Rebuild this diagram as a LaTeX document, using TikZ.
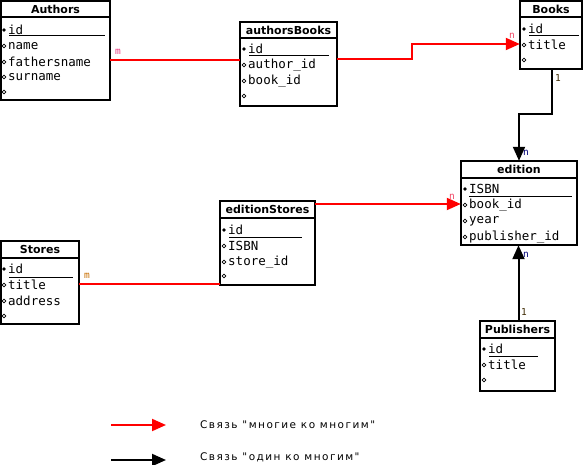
\documentclass[tikz,border=0pt]{standalone}
\usepackage{fontspec}
\setmainfont{DejaVu Sans}
\newfontfamily\fieldfont{DejaVu Sans Mono}
\newfontfamily\legfont[LetterSpace=14]{DejaVu Sans}
\usetikzlibrary{arrows.meta}
\definecolor{relred}{RGB}{255,0,0}
\definecolor{lblpink}{RGB}{235,60,130}
\definecolor{lblred}{RGB}{240,70,100}
\definecolor{lblorange}{RGB}{200,110,0}
\definecolor{lbldark}{RGB}{60,40,0}
\definecolor{lblblue}{RGB}{0,0,120}
\begin{document}
\begin{tikzpicture}[x=1pt,y=-1pt,
  tbl/.style={draw,line width=2pt},
  hdr/.style={line width=1.6pt},
  ttl/.style={inner sep=0pt,font=\fontsize{11}{11}\selectfont\bfseries},
  fld/.style={anchor=west,inner sep=0pt,font=\fieldfont\fontsize{12.5}{12}\selectfont},
  uline/.style={line width=1pt},
  keymk/.style={fill=black},
  mk/.style={draw=black,line width=0.8pt},
  many/.style={draw=relred,line width=2pt,-{Triangle[length=14pt,width=12pt]}},
  manyline/.style={draw=relred,line width=2pt},
  one/.style={draw=black,line width=2pt,-{Triangle[length=14pt,width=12pt]}},
  lbl/.style={inner sep=0pt,font=\fieldfont\fontsize{9.5}{9}\selectfont},
  leg/.style={anchor=west,inner sep=0pt,font=\legfont\fontsize{10.5}{10}\selectfont}]
\useasboundingbox (0,0) rectangle (586,465);

% ---------- Authors ----------
\draw[tbl] (1,1) rectangle (110,100);
\node[minimum width=109pt,minimum height=99pt,inner sep=0pt] (authors) at (55.5,50.5) {};
\node[ttl] (authors-t) at (55.5,9) {Authors};
\draw[hdr] (1,17) -- (110,17);
\foreach \y/\t [count=\i] in {30/id,46/name,62/fathersname,77/surname,92/{}}
  \node[fld] (authors-\i) at (8,\y) {\t};
\draw[uline] (9,36) -- (105,36);
\fill[keymk] (4,30) circle (1.8);
\foreach \y in {46,62,77,92} \draw[mk] (4,\y) circle (1.9);

% ---------- authorsBooks ----------
\draw[tbl] (240,22) rectangle (337,106);
\node[minimum width=97pt,minimum height=84pt,inner sep=0pt] (ab) at (288.5,64) {};
\node[ttl] (ab-t) at (288.5,30) {authorsBooks};
\draw[hdr] (240,38) -- (337,38);
\foreach \y/\t [count=\i] in {49/id,65/author\_id,81/book\_id,96/{}}
  \node[fld] (ab-\i) at (248,\y) {\t};
\draw[uline] (249,56) -- (329,56);
\fill[keymk] (244,49) circle (1.8);
\foreach \y in {65,81,96} \draw[mk] (244,\y) circle (1.9);

% ---------- Books ----------
\draw[tbl] (520,1) rectangle (582,69);
\node[minimum width=62pt,minimum height=68pt,inner sep=0pt] (books) at (551,35) {};
\node[ttl] (books-t) at (551,9) {Books};
\draw[hdr] (520,17) -- (582,17);
\foreach \y/\t [count=\i] in {29/id,45/title,60/{}}
  \node[fld] (books-\i) at (528,\y) {\t};
\draw[uline] (529,36) -- (579,36);
\fill[keymk] (524,29) circle (1.8);
\foreach \y in {45,60} \draw[mk] (524,\y) circle (1.9);

% ---------- edition ----------
\draw[tbl] (461,161) rectangle (577,245);
\node[minimum width=116pt,minimum height=84pt,inner sep=0pt] (edition) at (519,203) {};
\node[ttl] (edition-t) at (519,169.5) {edition};
\draw[hdr] (461,178) -- (577,178);
\foreach \y/\t [count=\i] in {189/ISBN,205/book\_id,221/year,237/publisher\_id}
  \node[fld] (edition-\i) at (469,\y) {\t};
\draw[uline] (469,197) -- (572,197);
\fill[keymk] (465,189) circle (1.8);
\foreach \y in {205,221,237} \draw[mk] (465,\y) circle (1.9);

% ---------- editionStores ----------
\draw[tbl] (220,201) rectangle (315,285);
\node[minimum width=95pt,minimum height=84pt,inner sep=0pt] (es) at (267.5,243) {};
\node[ttl] (es-t) at (267.5,209.5) {editionStores};
\draw[hdr] (220,218) -- (315,218);
\foreach \y/\t [count=\i] in {230/id,246/ISBN,262/store\_id,276/{}}
  \node[fld] (es-\i) at (228,\y) {\t};
\draw[uline] (229,237) -- (302,237);
\fill[keymk] (224,230) circle (1.8);
\foreach \y in {246,262,276} \draw[mk] (224,\y) circle (1.9);

% ---------- Stores ----------
\draw[tbl] (1,241) rectangle (79,324);
\node[minimum width=78pt,minimum height=83pt,inner sep=0pt] (stores) at (40,282.5) {};
\node[ttl] (stores-t) at (40,249.5) {Stores};
\draw[hdr] (1,258) -- (79,258);
\foreach \y/\t [count=\i] in {269/id,285/title,301/address,316/{}}
  \node[fld] (stores-\i) at (8,\y) {\t};
\draw[uline] (9,277) -- (73,277);
\fill[keymk] (4,269) circle (1.8);
\foreach \y in {285,301,316} \draw[mk] (4,\y) circle (1.9);

% ---------- Publishers ----------
\draw[tbl] (480,321) rectangle (555,391);
\node[minimum width=75pt,minimum height=70pt,inner sep=0pt] (pub) at (517.5,356) {};
\node[ttl] (pub-t) at (517.5,329.5) {Publishers};
\draw[hdr] (480,338) -- (555,338);
\foreach \y/\t [count=\i] in {349/id,365/title,380/{}}
  \node[fld] (pub-\i) at (488,\y) {\t};
\draw[uline] (489,356) -- (538,356);
\fill[keymk] (484,349) circle (1.8);
\foreach \y in {365,380} \draw[mk] (484,\y) circle (1.9);

% ---------- connectors ----------
\coordinate (r1) at (0,60);
\draw[manyline] (authors.east |- r1) -- (ab.west |- r1);
\node[lbl,text=lblpink] (m1) at (118,52) {m};

\coordinate (r2a) at (412,59);
\coordinate (r2b) at (412,44);
\draw[many] (ab.east |- r2a) -- (r2a) -- (r2b) -- (books.west |- r2b);
\node[lbl,text=lblred] (n1) at (512,36) {n};

\coordinate (b1) at (552,114);
\coordinate (b2) at (519,114);
\draw[one] (books.south -| b1) -- (b1) -- (b2) -- (edition.north -| b2);
\node[lbl,text=lbldark] (o1) at (558,78) {1};
\node[lbl,text=lblblue] (n2) at (526,153) {n};

\coordinate (r3) at (0,204);
\draw[many] (es.east |- r3) -- (edition.west |- r3);
\node[lbl,text=lblred] (n3) at (452,197) {n};

\coordinate (r4) at (0,284);
\draw[manyline] (stores.east |- r4) -- (es.west |- r4);
\node[lbl,text=lblorange] (m2) at (87,276) {m};

\coordinate (p1) at (518.5,0);
\draw[one] (pub.north -| p1) -- (edition.south -| p1);
\node[lbl,text=lbldark] (o2) at (524,312) {1};
\node[lbl,text=lblblue] (n4) at (526,255) {n};

% ---------- legend ----------
\coordinate (l1a) at (111,425);
\coordinate (l1b) at (166,425);
\draw[many] (l1a) -- (l1b);
\node[leg] (leg1) at (200,425) {Связь "многие ко многим"};
\coordinate (l2a) at (111,460);
\coordinate (l2b) at (166,460);
\draw[one] (l2a) -- (l2b);
\node[leg] (leg2) at (200,457) {Связь "один ко многим"};
\end{tikzpicture}
\end{document}
